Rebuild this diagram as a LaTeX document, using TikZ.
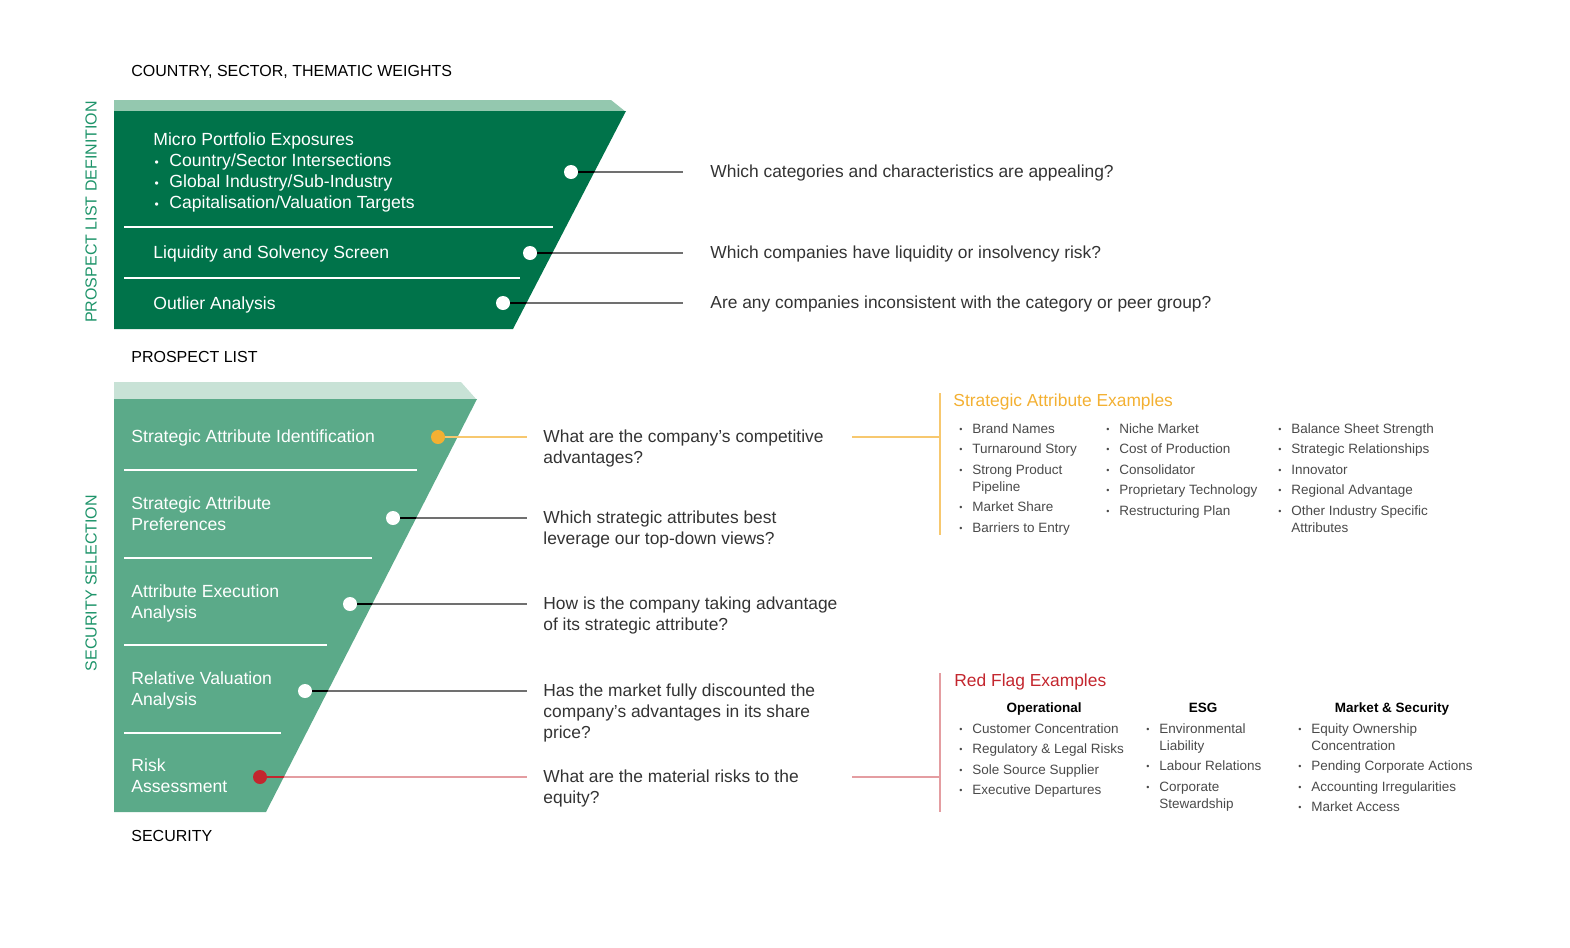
\documentclass[tikz,border=0pt]{standalone}
\usepackage{fontspec}
\setmainfont{Liberation Sans}
\usetikzlibrary{positioning}

\definecolor{darkgreen}{HTML}{00734A}
\definecolor{paleband}{HTML}{94C8AF}
\definecolor{midgreen}{HTML}{5BAA89}
\definecolor{lightband}{HTML}{C8E2D6}
\definecolor{labelgreen}{HTML}{1E946A}
\definecolor{attrorange}{HTML}{F3B032}
\definecolor{flagred}{HTML}{C3262E}
\definecolor{textgray}{HTML}{333333}
\definecolor{listgray}{HTML}{4A4A4A}
\definecolor{linegray}{HTML}{707070}

\newcommand{\itemdot}{\makebox[6.5pt][l]{\raisebox{0.3pt}{\fontsize{4.5}{4.5}\selectfont\textbullet}}}
\newcommand{\stagedot}{\makebox[8pt][l]{\hspace{0.6pt}\fontsize{6}{6}\selectfont\textbullet}}

\begin{document}
\begin{tikzpicture}[x=0.5pt, y=-0.5pt,
  caption/.style={anchor=base west, inner sep=0pt, text=black, font=\fontsize{8}{10}\selectfont},
  sidelabel/.style={rotate=90, inner sep=0pt, text=labelgreen, font=\fontsize{8}{10}\selectfont},
  stage/.style={anchor=base west, inner sep=0pt, align=left, text=white, font=\fontsize{8.8}{10.5}\selectfont},
  question/.style={anchor=base west, inner sep=0pt, align=left, text=textgray, font=\fontsize{8.7}{10.5}\selectfont},
  divider/.style={white, line width=1.1pt},
  dot/.style={circle, fill=white, inner sep=0pt, minimum size=7pt},
  qline/.style={linegray, line width=0.6pt},
  title/.style={anchor=base west, inner sep=0pt, font=\fontsize{8.7}{10.5}\selectfont},
  head/.style={anchor=base, inner sep=0pt, font=\fontsize{6.75}{8.5}\selectfont\bfseries},
  column/.style={anchor=base west, inner sep=0pt, text=listgray, font=\fontsize{6.75}{10.25}\selectfont}]
\useasboundingbox (0,0) rectangle (1570,948);

% Define constants
\def\leftX{114}
\def\joinX{683}
\def\stubX{527}
\def\topfunnel{(\leftX,111) -- (626,111) -- (513,329) -- (\leftX,329) -- cycle}
\def\lowfunnel{(\leftX,399) -- (477,399) -- (266,812) -- (\leftX,812) -- cycle}

% Top funnel: prospect list definition
\fill[paleband] (\leftX,100) -- (611,100) -- (626,112) -- (\leftX,112) -- cycle;
\fill[darkgreen] \topfunnel;
\draw[divider] (124,227) -- (553,227);
\draw[divider] (124,278) -- (520,278);

\node[caption] (weights) at (131,76) {COUNTRY, SECTOR, THEMATIC WEIGHTS};
\node[caption] (prospect) at (131,362) {PROSPECT LIST};
\node[sidelabel] (pldef) at (91,212) {PROSPECT LIST DEFINITION};

% multi-line nodes sit on the baseline of their last line
\node[stage] (micro) at (153,208) {Micro Portfolio Exposures\\
  \stagedot Country/Sector Intersections\\
  \stagedot Global Industry/Sub-Industry\\
  \stagedot Capitalisation/Valuation Targets};
\node[stage] (liquid) at (153,258) {Liquidity and Solvency Screen};
\node[stage] (outlier) at (153,309) {Outlier Analysis};

\coordinate (e1) at (\joinX,172);
\coordinate (e2) at (\joinX,253);
\coordinate (e3) at (\joinX,303);
\draw[qline] (571,172) -- (e1);
\draw[qline] (530,253) -- (e2);
\draw[qline] (503,303) -- (e3);
\begin{scope}
  \clip \topfunnel;
  \draw[qline, black] (571,172) -- (e1);
  \draw[qline, black] (530,253) -- (e2);
  \draw[qline, black] (503,303) -- (e3);
\end{scope}
\node[dot] (d1) at (571,172) {};
\node[dot] (d2) at (530,253) {};
\node[dot] (d3) at (503,303) {};

\node[question] (q1) at (710,177) {Which categories and characteristics are appealing?};
\node[question] (q2) at (710,258) {Which companies have liquidity or insolvency risk?};
\node[question] (q3) at (710,308) {Are any companies inconsistent with the category or peer group?};

% Bottom funnel: security selection
\fill[lightband] (\leftX,382) -- (461,382) -- (477,400) -- (\leftX,400) -- cycle;
\fill[midgreen] \lowfunnel;
\foreach \y/\x in {470/417, 558/372, 645/327, 733/281}
  \draw[divider] (124,\y) -- (\x,\y);

\node[sidelabel] (secsel) at (91,583) {SECURITY SELECTION};
\node[caption] (security) at (131,841) {SECURITY};

\node[stage] (s1) at (131,442) {Strategic Attribute Identification};
\node[stage] (s2) at (131,530) {Strategic Attribute\\Preferences};
\node[stage] (s3) at (131,618) {Attribute Execution\\Analysis};
\node[stage] (s4) at (131,705) {Relative Valuation\\Analysis};
\node[stage] (s5) at (131,792) {Risk\\Assessment};

\coordinate (f1) at (\stubX,437);
\coordinate (f2) at (\stubX,518);
\coordinate (f3) at (\stubX,604);
\coordinate (f4) at (\stubX,691);
\coordinate (f5) at (\stubX,777);
\draw[attrorange!70, line width=0.6pt] (438,437) -- (f1);
\draw[qline] (393,518) -- (f2);
\draw[qline] (350,604) -- (f3);
\draw[qline] (305,691) -- (f4);
\draw[flagred!45, line width=0.6pt] (260,777) -- (f5);
\begin{scope}
  \clip \lowfunnel;
  \draw[qline, black] (393,518) -- (f2);
  \draw[qline, black] (350,604) -- (f3);
  \draw[qline, black] (305,691) -- (f4);
  \draw[qline, flagred] (260,777) -- (f5);
\end{scope}
\node[dot, fill=attrorange] (g1) at (438,437) {};
\node[dot] (g2) at (393,518) {};
\node[dot] (g3) at (350,604) {};
\node[dot] (g4) at (305,691) {};
\node[dot, fill=flagred] (g5) at (260,777) {};

\node[question] (r1) at (543,463) {What are the company’s competitive\\advantages?};
\node[question] (r2) at (543,544) {Which strategic attributes best\\leverage our top-down views?};
\node[question] (r3) at (543,630) {How is the company taking advantage\\of its strategic attribute?};
\node[question] (r4) at (543,738) {Has the market fully discounted the\\company’s advantages in its share\\price?};
\node[question] (r5) at (543,803) {What are the material risks to the\\equity?};

% Strategic attribute examples
\coordinate (a1) at (852,437);
\coordinate (a2) at (940,437);
\draw[attrorange!70, line width=0.6pt] (a1) -- (a2);
\draw[attrorange!70, line width=0.6pt] (940,393) -- (940,535);
\node[title, text=attrorange] (satitle) at (953,406) {Strategic Attribute Examples};
\node[column] (ca) at (959,433) {\begin{tabular}[t]{@{}l@{}l@{}}
  \itemdot & Brand Names\\
  \itemdot & Turnaround Story\\
  \itemdot & Strong Product\\[-1.75pt]
           & Pipeline\\
  \itemdot & Market Share\\
  \itemdot & Barriers to Entry
\end{tabular}};
\node[column] (cb) at (1106,433) {\begin{tabular}[t]{@{}l@{}l@{}}
  \itemdot & Niche Market\\
  \itemdot & Cost of Production\\
  \itemdot & Consolidator\\
  \itemdot & Proprietary Technology\\
  \itemdot & Restructuring Plan
\end{tabular}};
\node[column] (cc) at (1278,433) {\begin{tabular}[t]{@{}l@{}l@{}}
  \itemdot & Balance Sheet Strength\\
  \itemdot & Strategic Relationships\\
  \itemdot & Innovator\\
  \itemdot & Regional Advantage\\
  \itemdot & Other Industry Specific\\[-1.75pt]
           & Attributes
\end{tabular}};

% Red flag examples
\coordinate (b1) at (852,777);
\coordinate (b2) at (940,777);
\draw[flagred!45, line width=0.6pt] (b1) -- (b2);
\draw[flagred!45, line width=0.6pt] (940,673) -- (940,812);
\node[title, text=flagred] (rftitle) at (954,686) {Red Flag Examples};
\node[head] (hop) at (1044,712) {Operational};
\node[head] (hesg) at (1203,712) {ESG};
\node[head] (hmkt) at (1392,712) {Market \& Security};
\node[column] (ra) at (959,733) {\begin{tabular}[t]{@{}l@{}l@{}}
  \itemdot & Customer Concentration\\
  \itemdot & Regulatory \& Legal Risks\\
  \itemdot & Sole Source Supplier\\
  \itemdot & Executive Departures
\end{tabular}};
\node[column] (rb) at (1146,733) {\begin{tabular}[t]{@{}l@{}l@{}}
  \itemdot & Environmental\\[-1.75pt]
           & Liability\\
  \itemdot & Labour Relations\\
  \itemdot & Corporate\\[-1.75pt]
           & Stewardship
\end{tabular}};
\node[column] (rc) at (1298,733) {\begin{tabular}[t]{@{}l@{}l@{}}
  \itemdot & Equity Ownership\\[-1.75pt]
           & Concentration\\
  \itemdot & Pending Corporate Actions\\
  \itemdot & Accounting Irregularities\\
  \itemdot & Market Access
\end{tabular}};
\end{tikzpicture}
\end{document}
